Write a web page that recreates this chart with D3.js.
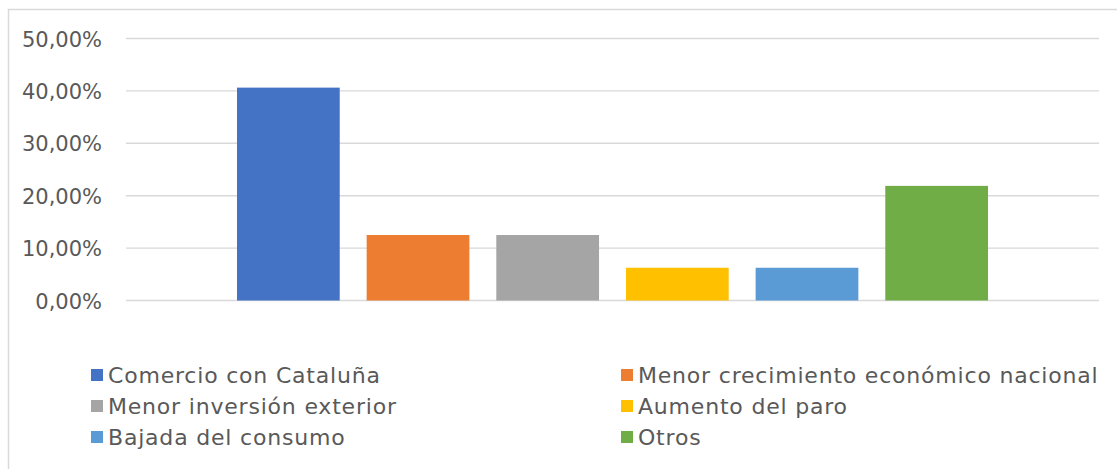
<!DOCTYPE html>
<html>
<head>
<meta charset="utf-8">
<script src="https://cdn.jsdelivr.net/npm/d3@7"></script>
<style>
  html, body { margin: 0; padding: 0; background: #ffffff; }
  svg { display: block; }
  text { font-family: "DejaVu Sans", "Noto Sans", sans-serif; fill: #595959; }
</style>
</head>
<body>
<svg id="chart" width="1117" height="469"></svg>
<script>
// ---- data ----
const series = [
  "Comercio con Cataluña",
  "Menor crecimiento económico nacional",
  "Menor inversión exterior",
  "Aumento del paro",
  "Bajada del consumo",
  "Otros"
];
const values = [0.40625, 0.125, 0.125, 0.0625, 0.0625, 0.21875];
const colors = ["#4472C4", "#ED7D31", "#A5A5A5", "#FFC000", "#5B9BD5", "#70AD47"];
const yTicks = [0, 0.1, 0.2, 0.3, 0.4, 0.5];
const yTickLabels = ["0,00%", "10,00%", "20,00%", "30,00%", "40,00%", "50,00%"];

// ---- layout ----
const svg = d3.select("#chart");
const W = 1117, H = 469;
const plot = { left: 126, right: 1099, top: 38.5, bottom: 300.5 };

// chart border
svg.append("rect")
  .attr("x", 8.5).attr("y", 9.5)
  .attr("width", W + 20).attr("height", H + 20)
  .attr("fill", "#ffffff")
  .attr("stroke", "#d9d9d9").attr("stroke-width", 1.5);

const y = d3.scaleLinear().domain([0, 0.5]).range([plot.bottom, plot.top]);
const x = d3.scaleBand().domain(series)
  .range([plot.left, plot.right])
  .paddingInner(0.2077)
  .paddingOuter(0.856);

// gridlines
svg.append("g").selectAll("line").data(yTicks).join("line")
  .attr("x1", plot.left).attr("x2", plot.right)
  .attr("y1", d => y(d)).attr("y2", d => y(d))
  .attr("stroke", "#d9d9d9").attr("stroke-width", 1.4);

// y axis labels
const yAxis = d3.axisLeft(y).tickValues(yTicks)
  .tickFormat((d, i) => yTickLabels[i]).tickSize(0).tickPadding(0);
const gy = svg.append("g").attr("transform", "translate(102,0)").call(yAxis);
gy.select(".domain").remove();
gy.selectAll("text")
  .style("font-family", "'DejaVu Sans', sans-serif")
  .style("font-size", "21px")
  .attr("fill", "#595959")
  .attr("dy", "0.36em");

// bars
svg.append("g").selectAll("rect").data(series).join("rect")
  .attr("x", d => x(d))
  .attr("width", x.bandwidth())
  .attr("y", (d, i) => y(values[i]))
  .attr("height", (d, i) => y(0) - y(values[i]))
  .attr("fill", (d, i) => colors[i]);

// legend
const legCols = [91, 621];
const legRows = [383, 414, 445];
const leg = svg.append("g").selectAll("g").data(series).join("g")
  .attr("transform", (d, i) => `translate(${legCols[i % 2]},${legRows[Math.floor(i / 2)]})`);
leg.append("rect")
  .attr("x", 0).attr("y", -14).attr("width", 12).attr("height", 12)
  .attr("fill", (d, i) => colors[i]);
leg.append("text")
  .attr("x", 17).attr("y", 0)
  .style("font-size", "22px")
  .style("letter-spacing", "0.8px")
  .text(d => d);
</script>
</body>
</html>
